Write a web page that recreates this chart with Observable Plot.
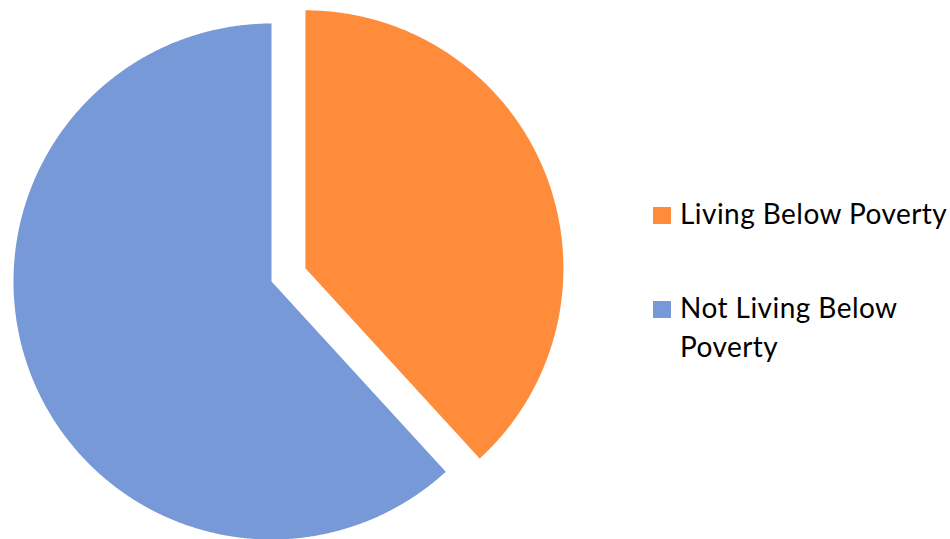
<!DOCTYPE html>
<html><head><meta charset="utf-8">
<script src="https://cdn.jsdelivr.net/npm/d3@7"></script>
<script src="https://cdn.jsdelivr.net/npm/@observablehq/plot@0.6"></script>
<style>
body{margin:0;background:#fff;}
#wrap{position:relative;width:950px;height:539px;overflow:hidden;}
#wrap svg{position:absolute;left:0;top:0;}
.item{position:absolute;left:653px;font-family:Lato,"Open Sans",sans-serif;font-size:28px;letter-spacing:0.45px;line-height:39px;color:#000;white-space:pre;}
.sw{position:absolute;left:0;width:18px;height:17px;}
.lab{position:absolute;left:27px;top:0;}
</style></head><body><div id="wrap"></div>
<script>
const categories = ["Living Below Poverty", "Not Living Below Poverty"];
const legendLabels = ["Living Below Poverty", "Not Living Below\nPoverty"];
const values = [38.2, 61.8];
const colors = ["#FF8C3B", "#7799D8"];
const explode = [0.141, 0];

// layout (pixels)
const W = 950, H = 539, R = 258, CX = 271, CY = 281;

const arcs = d3.pie().sort(null).value(d => d)(values);
const pts = [];
arcs.forEach((a, i) => {
  const mid = (a.startAngle + a.endAngle) / 2;
  const ox = explode[i] * Math.sin(mid), oy = explode[i] * Math.cos(mid);
  const cat = categories[i];
  pts.push({cat, x: ox, y: oy});
  const n = Math.max(2, Math.ceil((a.endAngle - a.startAngle) / 0.005));
  for (let k = 0; k <= n; k++) {
    const t = a.startAngle + (a.endAngle - a.startAngle) * k / n;
    pts.push({cat, x: ox + Math.sin(t), y: oy + Math.cos(t)});
  }
});

const chart = Plot.plot({
  width: W, height: H,
  margin: 0,
  x: {axis: null, domain: [-CX / R, (W - CX) / R]},
  y: {axis: null, domain: [-(H - CY) / R, CY / R]},
  color: {domain: categories, range: colors},
  marks: [
    Plot.line(pts, {x: "x", y: "y", z: "cat", fill: "cat", stroke: "none", curve: "linear-closed"})
  ]
});
const wrap = document.getElementById("wrap");
wrap.appendChild(chart);

const legendTops = [193.7, 287.7];
categories.forEach((c, i) => {
  const it = document.createElement("div");
  it.className = "item";
  it.style.top = legendTops[i] + "px";
  const sw = document.createElement("div");
  sw.className = "sw";
  sw.style.background = colors[i];
  sw.style.top = "13.3px";
  const lab = document.createElement("div");
  lab.className = "lab";
  lab.textContent = legendLabels[i];
  it.appendChild(sw); it.appendChild(lab);
  wrap.appendChild(it);
});
</script>
</body></html>
